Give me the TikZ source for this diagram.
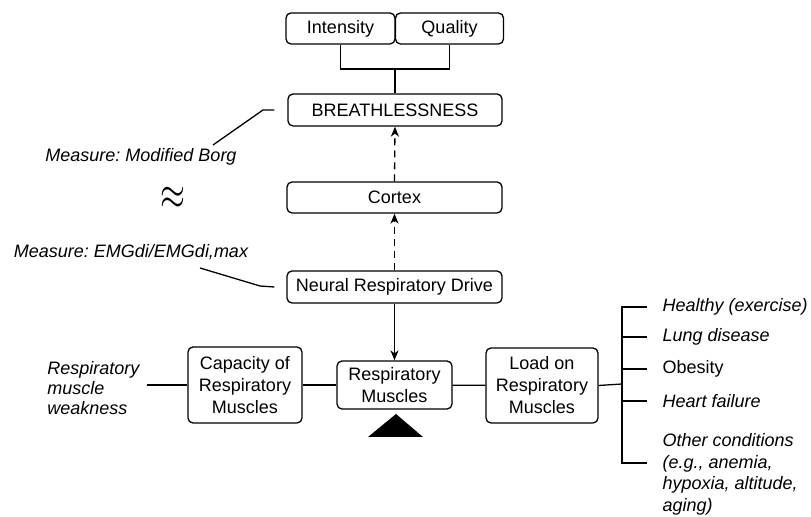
\documentclass[tikz,border=0pt]{standalone}
\usepackage{fontspec}
\setmainfont{Liberation Sans}
\usepackage{tikz}
\usetikzlibrary{arrows.meta}
\frenchspacing

\begin{document}
\begin{tikzpicture}[x=0.5pt, y=-0.5pt, line width=0.65pt,
  box/.style={draw, rounded corners=2.5pt, align=center, inner sep=1pt, font=\fontsize{9pt}{11pt}\selectfont},
  note/.style={align=left, font=\fontsize{9pt}{10pt}\selectfont\itshape},
  item/.style={anchor=west, inner xsep=7.5pt, font=\fontsize{9pt}{10.8pt}\selectfont\itshape, align=left},
  tip/.style={-{Stealth[length=5pt,width=4pt,inset=1.5pt]}},
  dashline/.style={dash pattern=on 3.5pt off 2.5pt}]
\useasboundingbox (0,0) rectangle (811,517);
% top boxes
\node[box, minimum width=54.5pt, minimum height=15.5pt] (intensity) at (340.5,28.5) {Intensity};
\node[box, minimum width=54pt, minimum height=15.5pt] (quality) at (449.5,28.5) {Quality};
\node[box, minimum width=107pt, minimum height=16pt] (breath) at (395,110) {BREATHLESSNESS};
\node[box, minimum width=107.5pt, minimum height=15.5pt] (cortex) at (394.5,197.5) {Cortex};
\node[box, minimum width=107.5pt, minimum height=16pt] (drive) at (394.5,287) {Neural Respiratory Drive};
% balance row
\node[box, minimum width=57pt, minimum height=38pt] (capacity) at (245,385) {Capacity of\\Respiratory\\Muscles};
\node[box, minimum width=57.5pt, minimum height=24pt] (muscles) at (394.5,385) {Respiratory\\Muscles};
\node[box, minimum width=56pt, minimum height=37.5pt] (load) at (542,385.5) {Load on\\Respiratory\\Muscles};
\fill (396,414) -- (368,437) -- (423,437) -- cycle;
% measures
\node[note] (borg) at (141,157) {Measure: Modified Borg};
\node[note] (emg) at (131,252) {Measure: EMGdi/EMGdi,max};
\node (approx) at (173,198) {\scalebox{1.6}[2.3]{$\approx$}};
\node[note, anchor=west] (weak) at (40,388) {Respiratory\\muscle\\weakness};
% conditions
\node[item] (healthy) at (647,307) {Healthy (exercise)};
\node[item] (lung) at (647,337) {Lung disease};
\node[item, font=\fontsize{9pt}{10.8pt}\selectfont] (obesity) at (647,369) {Obesity};
\node[item] (heart) at (647,401) {Heart failure};
\node[item] (other) at (647,474.5) {Other conditions\\(e.g., anemia,\\hypoxia, altitude,\\aging)};

\coordinate (join) at (395,69);
\draw (intensity.south) |- (join) -| (quality.south);
\draw (join) -- (breath.north);
\draw[tip, dashline] (cortex.north) -- (breath.south);
\draw[tip, dashline] (drive.north) -- (cortex.south);
\draw[tip] (drive.south) -- (muscles.north);

\coordinate (borgend) at (213,145);
\draw ([xshift=-6.5pt]breath.west) -- (263,110) -- (borgend);
\coordinate (emgend) at (200,268);
\draw ([xshift=-6pt]drive.west) -- (260,286) -- (emgend);

\draw (weak.east |- capacity.west) -- (capacity.west);
\draw (capacity) -- (muscles);
\draw (muscles) -- (load);

\coordinate (trunk) at (622,384);
\coordinate (otherend) at (647,463);
\draw (load.east) -- (trunk);
\draw (healthy.west) -| (trunk);
\draw (lung.west) -- (lung.west -| trunk);
\draw (obesity.west) -- (obesity.west -| trunk);
\draw (heart.west) -- (heart.west -| trunk);
\draw (otherend) -| (trunk);
\end{tikzpicture}
\end{document}
